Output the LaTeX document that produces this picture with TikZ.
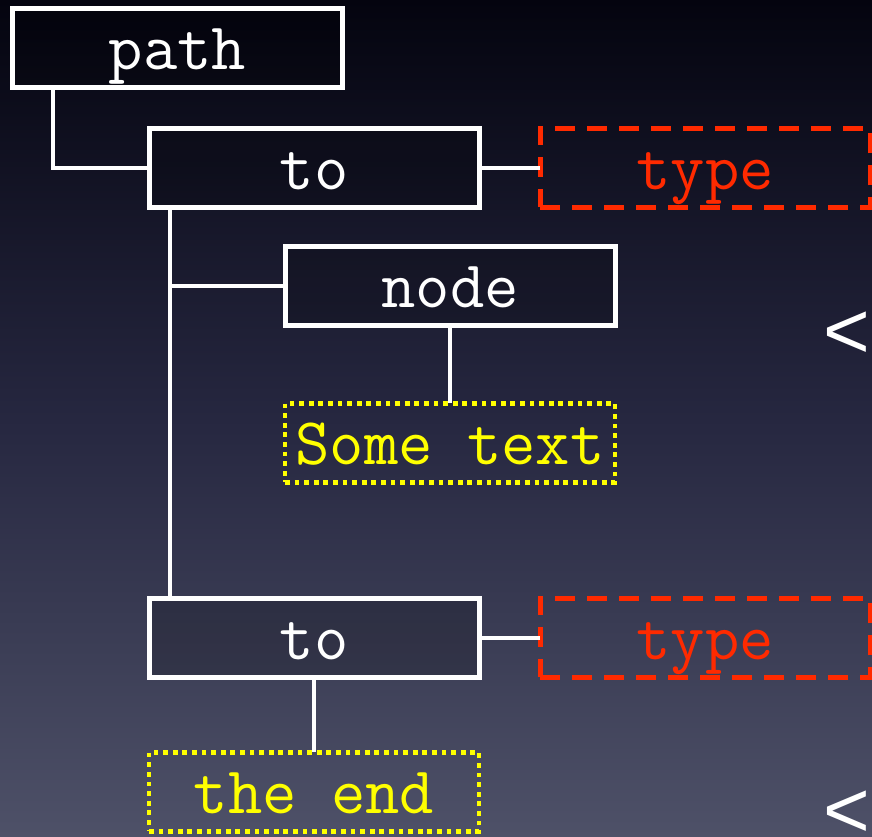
\documentclass[tikz,border=0pt]{standalone}
\usepackage{fontspec}
\newfontfamily\monofam{Latin Modern Mono}
\newfontfamily\sansfam{Liberation Sans}
\usetikzlibrary{calc}
\definecolor{bgtop}{HTML}{04040F}
\definecolor{bgmid}{HTML}{262740}
\definecolor{bgbot}{HTML}{4E5168}
\definecolor{tred}{HTML}{FF2A00}
\definecolor{tyellow}{HTML}{FFFF00}
\tikzset{
  basebox/.style={minimum width=247.5pt, minimum height=59.25pt, inner sep=0pt, outer sep=0pt,
    text height=33pt, text depth=0pt, font=\monofam\fontsize{50}{50}\selectfont},
  box/.style={basebox, draw=white, line width=3.75pt, fill=black, fill opacity=0.18, text opacity=1,
    text=white},
  typebox/.style={basebox, draw=tred, line width=3.75pt, dash pattern=on 15pt off 9pt, text=tred},
  textbox/.style={basebox, draw=tyellow, line width=3.5pt, dash pattern=on 3.6pt off 3.6pt, text=tyellow},
  conn/.style={draw=white, line width=3pt},
  lt/.style={text=white, font=\sansfam\fontsize{60}{60}\selectfont, inner sep=0pt, anchor=base west}
}
\begin{document}
\begin{tikzpicture}[x=0.75pt, y=0.75pt]
\useasboundingbox (0,0) rectangle (872,-837);
\shade[top color=bgtop, bottom color=bgbot, middle color=bgmid] (0,0) rectangle (872,-837);

\node[box] (path) at (177.5,-48) {path};
\node[box] (to1) at (314,-168) {to};
\node[typebox] (type1) at (705,-168) {type};
\node[box] (nd) at (450,-286) {node};
\node[textbox] (some) at (450,-443) {Some text};
\node[box] (to2) at (314,-638) {to};
\node[typebox] (type2) at (705,-638) {type};
\node[textbox] (end) at (314,-792) {the end};

\node[lt] (lt1) at (823,-359) {<};
\node[lt] (lt2) at (823,-837) {<};

\coordinate (p1) at ($(path.south west)+(40.5,0)$);
\coordinate (t1) at ($(to1.south west)+(21,0)$);
\coordinate (t2) at ($(to2.north west)+(21,0)$);

\draw[conn] (p1) |- (to1.west);
\draw[conn] (to1.east) -- (type1.west);
\draw[conn] (t1) -- (t2);
\draw[conn] (nd.west) -- (nd.west -| t1);
\draw[conn] (nd.south) -- (some.north);
\draw[conn] (to2.east) -- (type2.west);
\draw[conn] (to2.south) -- (end.north);
\end{tikzpicture}
\end{document}
